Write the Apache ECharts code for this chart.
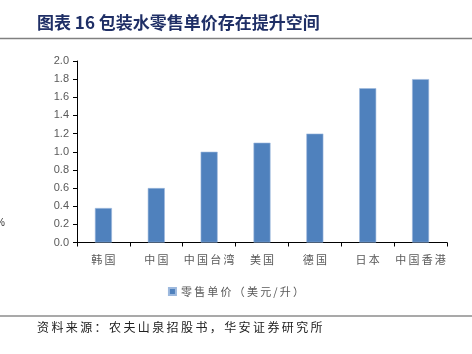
<!DOCTYPE html>
<html><head><meta charset="utf-8">
<script src="https://cdn.jsdelivr.net/npm/echarts@6/dist/echarts.min.js"></script>
<style>html,body{margin:0;padding:0;background:#fff}#c{width:472px;height:354px}</style>
</head><body><div id="c"></div>
<script>
const categories = ['韩国','中国','中国台湾','美国','德国','日本','中国香港'];
const values = [0.38, 0.6, 1.0, 1.1, 1.2, 1.7, 1.8];
const seriesName = '零售单价（美元/升）';
const titleText = '图表 16 包装水零售单价存在提升空间';
const sourceText = '资料来源：农夫山泉招股书，华安证券研究所';
const spaced = s => s.split('').join('\u2009');

const chart = echarts.init(document.getElementById('c'), null, {renderer:'canvas'});
chart.setOption({
  animation:false,
  backgroundColor:'#fff',
  grid:{left:77,right:25,top:61,bottom:111.5},
  xAxis:{type:'category',data:categories,
    axisLine:{lineStyle:{color:'#000',width:1}},
    axisTick:{show:true,length:4,lineStyle:{color:'#000'}},
    axisLabel:{interval:0,color:'#595959',fontSize:11,fontFamily:'Noto Sans CJK SC',margin:12,
      formatter:v=>spaced(v)}
  },
  yAxis:{type:'value',min:0,max:2,interval:0.2,
    axisLine:{show:true,lineStyle:{color:'#000',width:1}},
    axisTick:{show:true,length:4,lineStyle:{color:'#000'}},
    splitLine:{show:false},
    axisLabel:{color:'#595959',fontSize:11,fontFamily:'Liberation Sans',margin:8,formatter:v=>v.toFixed(1)}
  },
  legend:{bottom:52,left:'center',itemWidth:7,itemHeight:7,icon:'rect',itemGap:3,
    textStyle:{color:'#595959',fontSize:11,fontFamily:'Noto Sans CJK SC'},
    formatter:n=>spaced(n),
    data:[seriesName]},
  series:[{type:'bar',name:seriesName,data:values,barWidth:17,
    itemStyle:{color:'#4F81BD',borderColor:'#9DB9DE',borderWidth:0.6}}],
  graphic:[
    {type:'text',left:37,top:14,style:{text:titleText,fill:'#1F2F66',font:'bold 17px "Noto Sans CJK SC"'}},
    {type:'line',shape:{x1:0,y1:38.5,x2:472,y2:38.5},style:{stroke:'#808080',lineWidth:1.5}},
    {type:'line',shape:{x1:0,y1:316,x2:472,y2:316},style:{stroke:'#555',lineWidth:1.2}},
    {type:'text',left:37,top:321,style:{text:spaced(sourceText),fill:'#222',font:'12px "Noto Sans CJK SC"'}},
    {type:'text',left:-4,top:218,style:{text:'%',fill:'#333',font:'10px "Liberation Sans"'}}
  ]
});
</script></body></html>
